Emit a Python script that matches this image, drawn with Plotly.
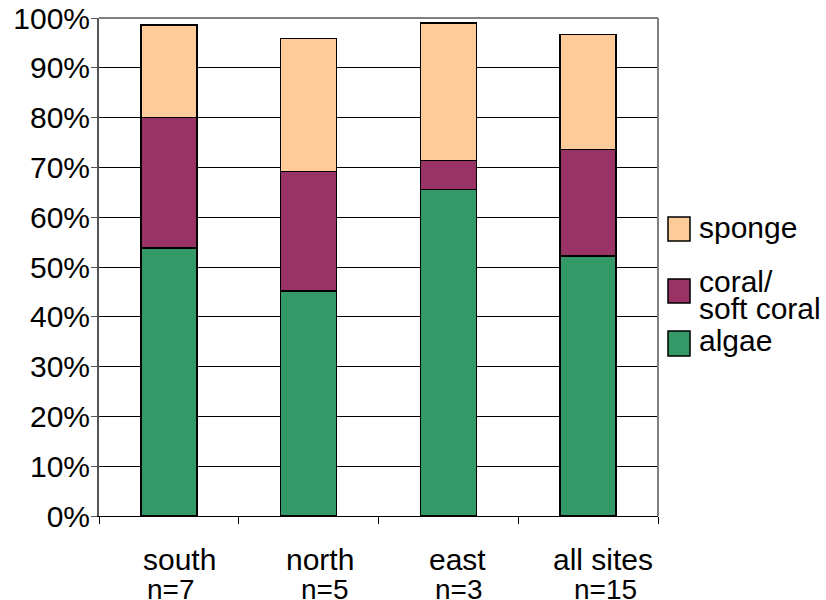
import plotly.graph_objects as go

# Site groups and sample sizes
sites = ["south", "north", "east", "all sites"]
sample_sizes = ["n=7", "n=5", "n=3", "n=15"]

# Percent cover of each substrate class per site group
algae = [53.8, 45.2, 65.6, 52.2]
coral = [26.2, 24.0, 5.8, 21.4]
sponge = [18.6, 26.7, 27.6, 23.1]

series_names = ["algae", "coral/\nsoft coral", "sponge"]
series_values = [algae, coral, sponge]
series_colors = ["#339966", "#993366", "#FFCC99"]

y_ticks = [0, 10, 20, 30, 40, 50, 60, 70, 80, 90, 100]

W, H = 826, 600
ML, MR, MT, MB = 99, 168, 18, 84
PW, PH = W - ML - MR, H - MT - MB
FONT = "Liberation Sans, Arial, sans-serif"


def px_x(px):
    return (px - ML) / PW


def px_y(py):
    return (H - MB - py) / PH


fig = go.Figure()
for name, vals, color in zip(series_names, series_values, series_colors):
    fig.add_trace(go.Bar(
        x=sites, y=vals, name=name.replace("\n", " "),
        marker=dict(color=color, line=dict(color="black", width=1.5)),
        showlegend=False,
    ))

shapes = [
    # plot-area frame (top and right edges)
    dict(type="line", xref="paper", yref="paper", x0=0, x1=1, y0=1, y1=1,
         line=dict(color="#808080", width=2), layer="above"),
    dict(type="line", xref="paper", yref="paper", x0=1, x1=1, y0=0, y1=1,
         line=dict(color="#808080", width=2), layer="above"),
]
annotations = []

# category labels under the axis: name on the first line, sample size below
line1_shift = [11, 11, 9, 15]
line2_shift = [2, 16, 11, 17]
for i, (site, n) in enumerate(zip(sites, sample_sizes)):
    annotations.append(dict(
        x=site, xref="x", y=px_y(559), yref="paper", text=site,
        showarrow=False, xanchor="center", yanchor="middle",
        xshift=line1_shift[i], font=dict(family=FONT, size=30, color="black")))
    annotations.append(dict(
        x=site, xref="x", y=px_y(589), yref="paper", text=n,
        showarrow=False, xanchor="center", yanchor="middle",
        xshift=line2_shift[i], font=dict(family=FONT, size=28, color="black")))

# legend on the right (top to bottom: sponge, coral, algae)
swatch_boxes = {"sponge": (217, 241), "coral/\nsoft coral": (279, 303), "algae": (331, 356)}
text_mid = {"sponge": [227], "coral/\nsoft coral": [282, 309], "algae": [340]}
for name, color in zip(series_names, series_colors):
    y0, y1 = swatch_boxes[name]
    shapes.append(dict(
        type="rect", xref="paper", yref="paper",
        x0=px_x(668), x1=px_x(690), y0=px_y(y1), y1=px_y(y0),
        fillcolor=color, line=dict(color="black", width=1.5)))
    for line_text, ym in zip(name.split("\n"), text_mid[name]):
        annotations.append(dict(
            x=px_x(697), xref="paper", y=px_y(ym), yref="paper",
            text=line_text, showarrow=False, xanchor="left", yanchor="middle",
            font=dict(family=FONT, size=30, color="black")))

fig.update_layout(
    width=W, height=H,
    margin=dict(l=ML, r=MR, t=MT, b=MB, pad=0, autoexpand=False),
    paper_bgcolor="white", plot_bgcolor="white",
    barmode="stack", bargap=0.6,
    font=dict(family=FONT, size=30, color="black"),
    shapes=shapes, annotations=annotations,
    xaxis=dict(
        type="category", range=[-0.5, 3.5], automargin=False,
        showline=True, linecolor="black", linewidth=1,
        ticks="outside", tickson="boundaries", ticklen=7,
        tickcolor="black", tickwidth=1,
        showticklabels=False, showgrid=False, zeroline=False,
    ),
    yaxis=dict(
        range=[0, 100], tickvals=y_ticks, automargin=False,
        ticktext=[f"{v}%" for v in y_ticks],
        showline=True, linecolor="#555555", linewidth=2,
        ticks="outside", ticklen=6, tickcolor="#555555", tickwidth=1,
        showgrid=True, gridcolor="black", gridwidth=1, zeroline=False,
        tickfont=dict(family=FONT, size=30, color="black"),
        ticklabelstandoff=-5,
    ),
)

fig.write_html("out.html")
